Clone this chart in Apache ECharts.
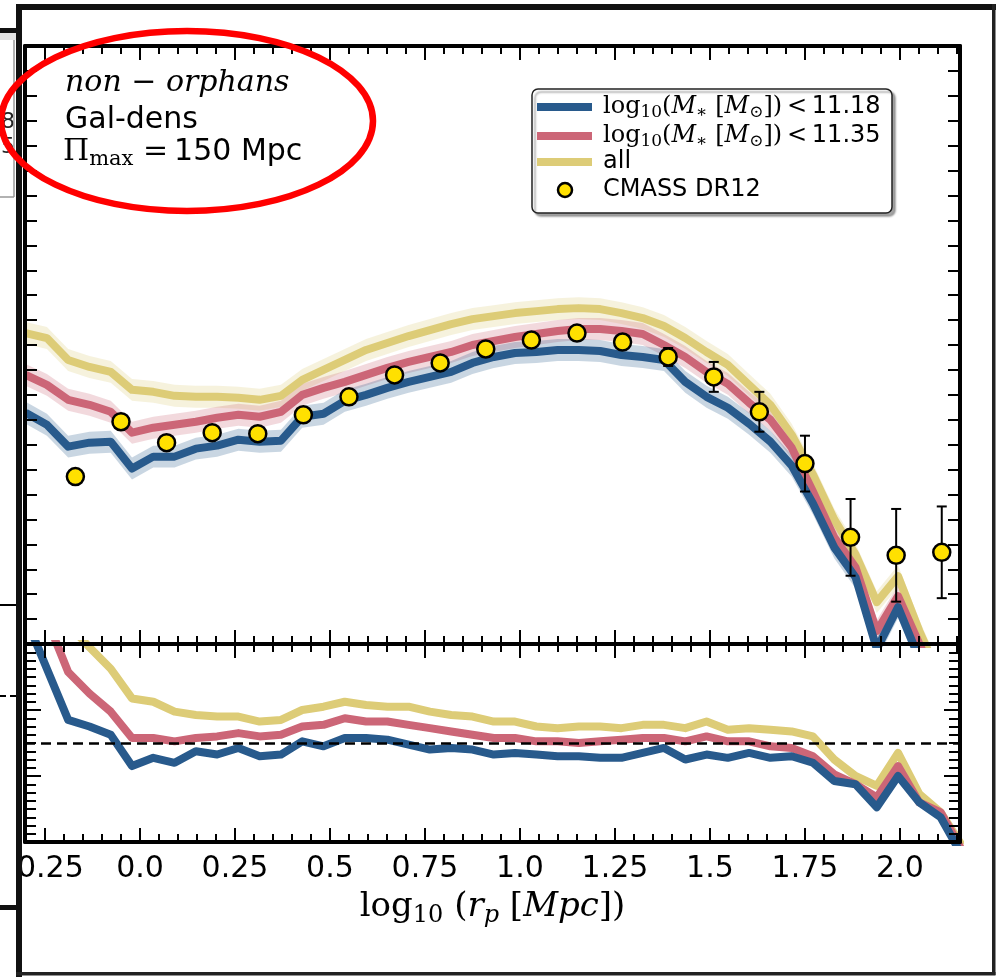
<!DOCTYPE html>
<html><head><meta charset="utf-8">
<script src="https://cdn.jsdelivr.net/npm/echarts@6/dist/echarts.min.js"></script>
<style>html,body{margin:0;padding:0;background:#fff}#c{width:997px;height:977px}</style>
</head><body><div id="c"></div>
<script>
// ---------------- data ----------------
const lineX = [-0.301, -0.245, -0.189, -0.133, -0.077, -0.021, 0.035, 0.091, 0.147, 0.203, 0.259, 0.315, 0.371, 0.427, 0.483, 0.539, 0.595, 0.651, 0.707, 0.763, 0.819, 0.875, 0.931, 0.987, 1.043, 1.099, 1.155, 1.211, 1.267, 1.323, 1.379, 1.435, 1.491, 1.547, 1.603, 1.659, 1.715, 1.771, 1.827, 1.883, 1.939, 1.995, 2.051, 2.107, 2.163];
const blueUpper = [92.8, 88.0, 79.2, 80.8, 81.2, 70.4, 75.2, 75.2, 78.4, 79.6, 82.0, 81.2, 81.6, 91.2, 92.4, 97.6, 100.0, 102.8, 105.2, 107.2, 109.2, 112.8, 115.2, 116.8, 117.2, 118.0, 118.0, 117.6, 116.0, 115.2, 114.0, 105.2, 99.2, 94.8, 88.4, 81.2, 71.6, 56.4, 38.8, 26.8, -2.0, 14.8, -6.0, -22.0, -34.0];
const redUpper = [108.0, 104.0, 98.0, 96.0, 93.2, 84.8, 86.8, 88.0, 89.2, 90.8, 92.0, 91.2, 93.2, 100.0, 102.8, 105.2, 108.0, 110.8, 113.2, 115.2, 117.2, 120.0, 121.6, 123.2, 124.4, 125.6, 126.4, 126.4, 125.6, 124.4, 120.0, 115.2, 109.2, 104.4, 96.8, 90.0, 78.8, 61.2, 42.8, 30.8, 5.2, 19.2, 0.0, -18.0, -28.0];
const yellowUpper = [124.8, 122.8, 114.0, 111.2, 109.2, 102.0, 101.2, 99.6, 99.2, 99.2, 98.8, 98.0, 99.6, 106.0, 110.0, 114.0, 118.0, 120.8, 123.6, 126.0, 128.4, 130.4, 131.6, 132.8, 133.6, 134.4, 134.8, 134.4, 132.8, 130.8, 127.6, 122.8, 117.2, 112.0, 104.0, 96.0, 84.0, 68.0, 50.0, 36.0, 16.8, 27.2, 5.2, -14.0, -24.0];
const bandHalf = 4.4;
const blueRatio = [1.76, 1.45, 1.14, 1.10, 1.05, 0.86, 0.91, 0.88, 0.95, 0.93, 0.97, 0.92, 0.93, 1.01, 0.98, 1.03, 1.03, 1.02, 0.99, 0.96, 0.97, 0.96, 0.93, 0.94, 0.93, 0.92, 0.92, 0.91, 0.91, 0.94, 0.97, 0.90, 0.93, 0.91, 0.94, 0.91, 0.92, 0.88, 0.77, 0.75, 0.61, 0.80, 0.64, 0.55, 0.32];
const redRatio = [2.00, 1.75, 1.43, 1.30, 1.19, 1.03, 1.03, 1.01, 1.03, 1.04, 1.06, 1.04, 1.05, 1.10, 1.11, 1.15, 1.13, 1.13, 1.11, 1.09, 1.07, 1.05, 1.03, 1.03, 1.01, 1.01, 1.00, 1.01, 1.02, 1.03, 1.03, 1.01, 1.04, 1.01, 1.01, 0.98, 0.97, 0.92, 0.81, 0.75, 0.67, 0.86, 0.64, 0.58, 0.35];
const yellowRatio = [2.30, 2.00, 1.72, 1.58, 1.45, 1.27, 1.25, 1.19, 1.17, 1.16, 1.16, 1.13, 1.14, 1.20, 1.22, 1.25, 1.23, 1.22, 1.22, 1.19, 1.17, 1.16, 1.13, 1.13, 1.10, 1.09, 1.10, 1.10, 1.09, 1.11, 1.11, 1.09, 1.13, 1.08, 1.09, 1.08, 1.07, 1.04, 0.90, 0.80, 0.74, 0.94, 0.69, 0.58, 0.38];
const ratioRef = 1.0;
const cmassX = [-0.17, -0.05, 0.07, 0.19, 0.31, 0.43, 0.55, 0.67, 0.79, 0.91, 1.03, 1.15, 1.27, 1.39, 1.51, 1.63, 1.75, 1.87, 1.99, 2.11];
const cmassY = [67.2, 89.2, 80.8, 84.8, 84.4, 92.0, 99.2, 108.0, 112.8, 118.4, 122.0, 124.8, 121.2, 115.2, 107.2, 93.2, 72.4, 42.8, 35.6, 36.8];
const cmassErr = [1.5, 1.5, 1.5, 1.5, 1.5, 1.5, 1.6, 1.7, 1.8, 2.0, 2.2, 2.4, 2.8, 3.6, 6.0, 8.0, 11.2, 15.4, 18.6, 18.4];
const xMajorTicks = [-0.25, 0, 0.25, 0.5, 0.75, 1.0, 1.25, 1.5, 1.75, 2.0];
const xTickLabels = ['-0.25', '0.0', '0.25', '0.5', '0.75', '1.0', '1.25', '1.5', '1.75', '2.0'];
const X_MIN = -0.3026, X_MAX = 2.158;
const UP_MIN = 0, UP_MAX = 240, UP_STEP = 10;
const LO_MIN = 0.4, LO_MAX = 1.6, LO_STEP = 0.4;
const legendNames = ['11.18', '11.35', 'all', 'CMASS DR12'];

// ---------------- styling ----------------
const SERIF = 'DejaVu Serif', SANS = 'DejaVu Sans';
const C_BLUE = '#285a8c', C_RED = '#cc6677', C_YEL = '#ddcc77', C_PT = '#ffe000';
const xMinorTicks = [];
for (let k = -6; k <= 43; k++) xMinorTicks.push(+(k * 0.05).toFixed(2));

function richSet(size, useColor) {
  const sub = Math.round(size * 0.7);
  const col = useColor ? {color: '#000'} : {fill: '#000'};
  return {
    s: Object.assign({fontFamily: SERIF, fontSize: size}, col),
    i: Object.assign({fontFamily: SERIF, fontStyle: 'italic', fontSize: size}, col),
    sub: Object.assign({fontFamily: SERIF, fontSize: sub, padding: [Math.round(size * 0.5), 0, 0, 0]}, col),
    isub: Object.assign({fontFamily: SERIF, fontStyle: 'italic', fontSize: sub, padding: [Math.round(size * 0.5), 0, 0, 0]}, col),
    n: Object.assign({fontFamily: SANS, fontSize: size}, col)
  };
}

function labelFor(v) {
  for (let i = 0; i < xMajorTicks.length; i++) if (Math.abs(xMajorTicks[i] - v) < 1e-6) return xTickLabels[i];
  return '';
}

function mkX(gridIndex, position, major, withLabels) {
  const ax = {
    type: 'value', gridIndex, position, min: X_MIN, max: X_MAX, z: 10,
    axisLine: {show: major, onZero: false, lineStyle: {color: '#000', width: 4}},
    axisTick: {show: true, inside: true, length: major ? 14 : 8, lineStyle: {color: '#000', width: 2},
               customValues: major ? xMajorTicks : xMinorTicks},
    axisLabel: {show: false},
    splitLine: {show: false}
  };
  if (withLabels) {
    ax.axisLabel = {show: true, customValues: xMajorTicks, formatter: labelFor, fontFamily: SANS, fontSize: 30,
                    color: '#000', margin: 27, verticalAlign: 'middle'};
    ax.name = '{s|log}{sub|10}{s| (}{i|r}{isub|p}{s| [}{i|Mpc}{s|])}';
    ax.nameLocation = 'middle';
    ax.nameGap = 65;
    ax.nameTextStyle = {verticalAlign: 'middle', rich: richSet(34, true)};
  }
  return ax;
}
function mkYUp(position) {
  return {type: 'value', gridIndex: 0, position, min: UP_MIN, max: UP_MAX, interval: UP_STEP, z: 10,
    axisLine: {show: true, onZero: false, lineStyle: {color: '#000', width: 4}},
    axisTick: {show: true, inside: true, length: 12, lineStyle: {color: '#000', width: 2}},
    axisLabel: {show: false}, splitLine: {show: false}};
}
function mkYLo(position) {
  return {type: 'value', gridIndex: 1, position, min: LO_MIN, max: LO_MAX, interval: LO_STEP, z: 10,
    axisLine: {show: true, onZero: false, lineStyle: {color: '#000', width: 4}},
    axisTick: {show: true, inside: true, length: 16, lineStyle: {color: '#000', width: 2}},
    minorTick: {show: true, splitNumber: 8, length: 11, lineStyle: {color: '#000', width: 2}},
    minorSplitLine: {show: false},
    axisLabel: {show: false}, splitLine: {show: false}};
}

const groups = [
  {key: 'all', color: C_YEL, up: yellowUpper, ratio: yellowRatio},
  {key: '11.35', color: C_RED, up: redUpper, ratio: redRatio},
  {key: '11.18', color: C_BLUE, up: blueUpper, ratio: blueRatio}
];
const series = [];
groups.forEach(g => {
  series.push({type: 'line', name: g.key, xAxisIndex: 0, yAxisIndex: 0, symbol: 'none', z: 2,
    data: lineX.map((x, i) => [x, g.up[i]]),
    lineStyle: {color: g.color, width: 8, join: 'round'}, itemStyle: {color: g.color}});
  // shaded band = line value +/- bandHalf, drawn through the axes' scales
  series.push({type: 'custom', xAxisIndex: 0, yAxisIndex: 0, z: 2, silent: true,
    data: [[lineX[0], g.up[0]]],
    renderItem: (params, api) => {
      const top = lineX.map((x, i) => api.coord([x, g.up[i] + bandHalf]));
      const bot = lineX.map((x, i) => api.coord([x, g.up[i] - bandHalf])).reverse();
      const cs = params.coordSys;
      return {type: 'polygon', shape: {points: top.concat(bot)},
        style: {fill: g.color, opacity: 0.25},
        clipPath: {type: 'rect', shape: {x: cs.x, y: cs.y, width: cs.width, height: cs.height}}};
    }});
});
groups.forEach((g, gi) => {
  const s = {type: 'line', xAxisIndex: 4, yAxisIndex: 2, symbol: 'none', z: 2,
    data: lineX.map((x, i) => [x, g.ratio[i]]),
    lineStyle: {color: g.color, width: 8, join: 'round'}};
  if (gi === groups.length - 1) {
    s.markLine = {silent: true, symbol: ['none', 'none'], z: 8, animation: false, label: {show: false},
      lineStyle: {color: '#000', width: 2.5, type: [10, 6]}, data: [{yAxis: ratioRef}]};
  }
  series.push(s);
});
series.push({type: 'custom', xAxisIndex: 0, yAxisIndex: 0, z: 20,
  data: cmassX.map((x, i) => [x, cmassY[i] - cmassErr[i], cmassY[i] + cmassErr[i]]),
  encode: {x: 0, y: [1, 2]},
  renderItem: (params, api) => {
    const x = api.value(0);
    const lo = api.coord([x, api.value(1)]);
    const hi = api.coord([x, api.value(2)]);
    const cw = 5, st = {stroke: '#000', lineWidth: 2};
    return {type: 'group', children: [
      {type: 'line', shape: {x1: lo[0], y1: lo[1], x2: hi[0], y2: hi[1]}, style: st},
      {type: 'line', shape: {x1: lo[0] - cw, y1: lo[1], x2: lo[0] + cw, y2: lo[1]}, style: st},
      {type: 'line', shape: {x1: hi[0] - cw, y1: hi[1], x2: hi[0] + cw, y2: hi[1]}, style: st}
    ]};
  }});
series.push({type: 'scatter', name: 'CMASS DR12', xAxisIndex: 0, yAxisIndex: 0, z: 21,
  data: cmassX.map((x, i) => [x, cmassY[i]]), symbol: 'circle', symbolSize: 17,
  itemStyle: {color: C_PT, borderColor: '#000', borderWidth: 2.5, opacity: 1}});

// ---------------- overlays ----------------
const legendRich = richSet(24, false);
const legendTexts = [
  '{s|log}{sub|10}{s|(}{i|M}{sub|∗}{s| [}{i|M}{sub|⊙}{s|])\u2009<\u2009}{n|' + legendNames[0] + '}',
  '{s|log}{sub|10}{s|(}{i|M}{sub|∗}{s| [}{i|M}{sub|⊙}{s|])\u2009<\u2009}{n|' + legendNames[1] + '}',
  '{n|' + legendNames[2] + '}',
  '{n|' + legendNames[3] + '}'
];
const rowY = [107, 136, 162, 190];
const legendColors = [C_BLUE, C_RED, C_YEL];
const graphics = [];
graphics.push({type: 'rect', z: 50, shape: {x: 532, y: 89, width: 360, height: 124, r: 6},
  style: {fill: '#fff', stroke: '#222', lineWidth: 1.5, shadowColor: 'rgba(0,0,0,0.35)', shadowOffsetX: 3, shadowOffsetY: 3, shadowBlur: 2}});
legendColors.forEach((c, i) => graphics.push({type: 'line', z: 51, shape: {x1: 537, y1: rowY[i], x2: 592, y2: rowY[i]}, style: {stroke: c, lineWidth: 8}}));
graphics.push({type: 'circle', z: 51, shape: {cx: 565, cy: rowY[3], r: 7}, style: {fill: C_PT, stroke: '#000', lineWidth: 2.5}});
legendTexts.forEach((t, i) => graphics.push({type: 'text', z: 51, x: 603, y: rowY[i],
  style: {text: t, rich: legendRich, align: 'left', verticalAlign: 'middle', fontSize: 24, fontFamily: SANS}}));

const annRich = richSet(30, false);
graphics.push({type: 'text', z: 60, x: 65, y: 83, style: {text: '{i|non}{s| − }{i|orphans}', rich: annRich, align: 'left', verticalAlign: 'middle', fontSize: 30}});
graphics.push({type: 'text', z: 60, x: 65, y: 120, style: {text: 'Gal-dens', fontFamily: SANS, fontSize: 30, fill: '#000', align: 'left', verticalAlign: 'middle'}});
graphics.push({type: 'text', z: 60, x: 63, y: 152, style: {text: '{s|Π}{sub|max}{s| =\u2009}{n|150 Mpc}', rich: annRich, align: 'left', verticalAlign: 'middle', fontSize: 30}});

// neighbouring figure strip on the left and frame
graphics.push({type: 'rect', z: 100, shape: {x: 0, y: 0, width: 16, height: 977}, style: {fill: '#fff'}});
graphics.push({type: 'rect', z: 101, shape: {x: 0, y: 28, width: 16, height: 5}, style: {fill: '#111'}});
graphics.push({type: 'rect', z: 101, shape: {x: 0, y: 33, width: 16, height: 7}, style: {fill: '#e4e4e4'}});
graphics.push({type: 'text', z: 101, x: 15, y: 122, style: {text: '11.18', fontFamily: SANS, fontSize: 22, fill: '#222', align: 'right', verticalAlign: 'middle'}});
graphics.push({type: 'text', z: 101, x: 15, y: 147, style: {text: '11.35', fontFamily: SANS, fontSize: 22, fill: '#222', align: 'right', verticalAlign: 'middle'}});
graphics.push({type: 'line', z: 101, shape: {x1: 14, y1: 40, x2: 14, y2: 197}, style: {stroke: '#999', lineWidth: 1.5}});
graphics.push({type: 'line', z: 101, shape: {x1: 0, y1: 197, x2: 14, y2: 197}, style: {stroke: '#999', lineWidth: 1.5}});
graphics.push({type: 'line', z: 101, shape: {x1: 0, y1: 605, x2: 16, y2: 605}, style: {stroke: '#000', lineWidth: 2}});
graphics.push({type: 'line', z: 101, shape: {x1: 0, y1: 696, x2: 16, y2: 696}, style: {stroke: '#000', lineWidth: 2, lineDash: [6, 4]}});
graphics.push({type: 'rect', z: 101, shape: {x: 0, y: 905, width: 16, height: 5}, style: {fill: '#111'}});
graphics.push({type: 'rect', z: 102, shape: {x: 16, y: 4, width: 980, height: 6}, style: {fill: '#111'}});
graphics.push({type: 'rect', z: 102, shape: {x: 16, y: 4, width: 6, height: 973}, style: {fill: '#111'}});
graphics.push({type: 'rect', z: 102, shape: {x: 992, y: 4, width: 3.5, height: 971}, style: {fill: '#222'}});
graphics.push({type: 'rect', z: 102, shape: {x: 16, y: 972, width: 979.5, height: 3.5}, style: {fill: '#222'}});
graphics.push({type: 'ellipse', z: 110, shape: {cx: 187, cy: 121, rx: 186, ry: 90}, style: {fill: 'none', stroke: '#f00', lineWidth: 6.5}});

const option = {
  backgroundColor: '#fff',
  animation: false,
  grid: [
    {left: 25, top: 46, width: 935, height: 598, containLabel: false},
    {left: 25, top: 644, width: 935, height: 198, containLabel: false}
  ],
  xAxis: [
    mkX(0, 'bottom', true, false), mkX(0, 'bottom', false, false),
    mkX(0, 'top', true, false), mkX(0, 'top', false, false),
    mkX(1, 'bottom', true, true), mkX(1, 'bottom', false, false),
    mkX(1, 'top', true, false), mkX(1, 'top', false, false)
  ],
  yAxis: [mkYUp('left'), mkYUp('right'), mkYLo('left'), mkYLo('right')],
  series,
  graphic: {elements: graphics}
};
const chart = echarts.init(document.getElementById('c'), null, {renderer: 'canvas'});
chart.setOption(option);
</script>
</body></html>
